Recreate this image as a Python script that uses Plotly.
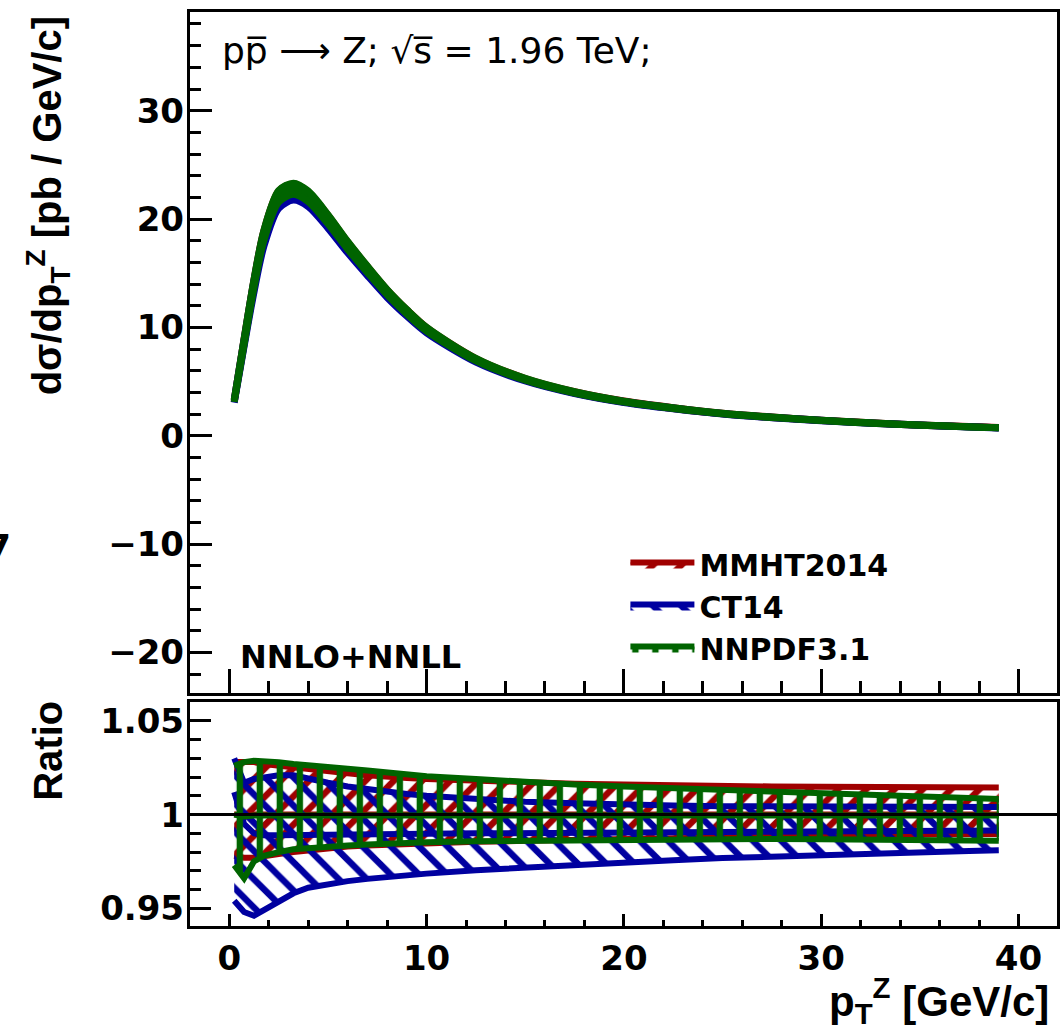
import plotly.graph_objects as go

# ---------------- data ----------------
pt = [0.25, 0.75, 1.25, 1.75, 2.5, 3.25, 4, 5, 6, 7, 8, 9, 10, 12.5, 15, 17.5,
      20, 22.5, 25, 27.5, 30, 32.5, 35, 37.5, 39]

# reference (MMHT2014 central) dsigma/dpT [pb/GeV/c]
xsec_central = [3.2, 8.7, 14.0, 18.4, 22.0, 22.7, 22.0, 19.9, 17.5, 15.3, 13.2, 11.4,
                9.8, 7.0, 5.2, 4.0, 3.15, 2.55, 2.05, 1.7, 1.42, 1.18, 0.98, 0.83, 0.74]

mmht_up = [1.028, 1.028, 1.028, 1.027, 1.026, 1.025, 1.024, 1.023, 1.022, 1.021, 1.020,
           1.0195, 1.019, 1.018, 1.017, 1.0165, 1.016, 1.0155, 1.015, 1.015, 1.0148,
           1.0147, 1.0146, 1.0145, 1.0145]
mmht_lo = [0.978, 0.977, 0.977, 0.978, 0.979, 0.980, 0.981, 0.982, 0.983, 0.9835, 0.984,
           0.9845, 0.985, 0.9855, 0.986, 0.9865, 0.987, 0.9875, 0.988, 0.9885, 0.989,
           0.9893, 0.9895, 0.9897, 0.9897]
mmht_c = [1.0, 1.0, 1.0, 1.0, 1.0, 1.0, 1.0, 1.0, 1.0, 1.0, 1.0, 1.0, 1.0, 1.0, 1.0,
          1.0, 1.0, 1.0, 1.0, 1.0, 1.0, 1.0, 1.0, 1.0, 1.0]

ct14_up = [1.030, 1.017, 1.019, 1.020, 1.021, 1.021, 1.019, 1.017, 1.015, 1.0135, 1.012,
           1.011, 1.010, 1.008, 1.0068, 1.006, 1.0052, 1.0048, 1.0045, 1.0043, 1.0042,
           1.0041, 1.004, 1.004, 1.004]
ct14_lo = [0.954, 0.948, 0.946, 0.949, 0.954, 0.958, 0.961, 0.963, 0.9645, 0.9657, 0.9667,
           0.9676, 0.9685, 0.9703, 0.9718, 0.9732, 0.9745, 0.9757, 0.9768, 0.9777, 0.9785,
           0.9793, 0.980, 0.9806, 0.981]
ct14_c = [1.012, 0.995, 0.990, 0.989, 0.989, 0.989, 0.989, 0.989, 0.989, 0.9892, 0.9894,
          0.9896, 0.9898, 0.990, 0.9902, 0.9904, 0.9906, 0.9908, 0.991, 0.9911, 0.9912,
          0.9913, 0.9914, 0.9915, 0.9915]

nnpdf_up = [1.026, 1.028, 1.0287, 1.0285, 1.028, 1.027, 1.0265, 1.0255, 1.0245, 1.0235,
            1.0225, 1.0215, 1.0205, 1.019, 1.0172, 1.016, 1.015, 1.014, 1.013, 1.012,
            1.0113, 1.0105, 1.0097, 1.0088, 1.0083]
nnpdf_lo = [0.973, 0.966, 0.975, 0.978, 0.980, 0.9815, 0.982, 0.983, 0.9835, 0.984, 0.9845,
            0.985, 0.9853, 0.9858, 0.986, 0.9865, 0.987, 0.987, 0.987, 0.987, 0.9868,
            0.9865, 0.9862, 0.986, 0.986]
nnpdf_c = [1.0, 0.999, 0.9995, 0.9995, 0.9995, 0.9995, 0.9995, 0.9995, 0.9995, 0.9995,
           0.9995, 0.9995, 0.9995, 0.9995, 0.9995, 0.9995, 0.9995, 0.9995, 0.9995, 0.9995,
           0.9995, 0.9995, 0.9995, 0.9995, 0.9995]

pdf_names = ["MMHT2014", "CT14", "NNPDF3.1"]
pdf_colors = ["#a00000", "#0000a0", "#006400"]
pdf_hatch = ["/", "\\", "|"]
pdf_up = [mmht_up, ct14_up, nnpdf_up]
pdf_lo = [mmht_lo, ct14_lo, nnpdf_lo]
pdf_c = [mmht_c, ct14_c, nnpdf_c]

x_ticks = [0, 10, 20, 30, 40]
y_ticks_top = [-20, -10, 0, 10, 20, 30]
y_ticks_ratio = [0.95, 1.0, 1.05]
y_ticklabels_ratio = ["0.95", "1", "1.05"]

# ---------------- figure ----------------
W, H = 1060, 1032
def px_x(p):
    return p / W
def px_y(p):
    return 1 - p / H

fig = go.Figure()

for name, col, hatch, up, lo, c in zip(pdf_names, pdf_colors, pdf_hatch, pdf_up, pdf_lo, pdf_c):
    # main panel band
    main_lo = [xs * r for xs, r in zip(xsec_central, lo)]
    main_up = [xs * r for xs, r in zip(xsec_central, up)]
    fig.add_trace(go.Scatter(x=pt, y=main_lo, mode="lines",
                             line=dict(color=col, width=7, shape="spline", smoothing=0.8),
                             xaxis="x", yaxis="y", showlegend=False, hoverinfo="skip"))
    fig.add_trace(go.Scatter(x=pt, y=main_up, mode="lines",
                             line=dict(color=col, width=7, shape="spline", smoothing=0.8),
                             fill="tonexty", fillcolor=col,
                             xaxis="x", yaxis="y", showlegend=False, hoverinfo="skip"))

for name, col, hatch, up, lo, c in zip(pdf_names, pdf_colors, pdf_hatch, pdf_up, pdf_lo, pdf_c):
    # ratio panel hatched band
    fig.add_trace(go.Scatter(x=pt, y=lo, mode="lines", line=dict(color=col, width=6),
                             xaxis="x2", yaxis="y2", showlegend=False, legendgroup=name,
                             hoverinfo="skip"))
    fig.add_trace(go.Scatter(x=pt, y=up, mode="lines", line=dict(color=col, width=6),
                             fill="tonexty", fillcolor="rgba(0,0,0,0)",
                             fillpattern=dict(shape=hatch, fgcolor=col, bgcolor="rgba(0,0,0,0)",
                                              size=20, solidity=0.32, fillmode="replace"),
                             xaxis="x2", yaxis="y2", name=name, legendgroup=name,
                             showlegend=True, hoverinfo="skip"))
    fig.add_trace(go.Scatter(x=pt, y=c, mode="lines", line=dict(color=col, width=6),
                             xaxis="x2", yaxis="y2", showlegend=False, legendgroup=name,
                             hoverinfo="skip"))

tick_font = dict(family="DejaVu Sans", size=34, color="black", weight="bold")
x_dom = [px_x(190), px_x(1058)]
x_range = [-2.0, 41.95]

axis_common = dict(showline=True, linecolor="black", linewidth=3, mirror=True,
                   showgrid=False, zeroline=False, ticks="inside", tickcolor="black",
                   tickwidth=3)

fig.update_layout(
    width=W, height=H,
    margin=dict(l=0, r=0, t=0, b=0),
    paper_bgcolor="white", plot_bgcolor="white",
    xaxis=dict(domain=x_dom, range=x_range, anchor="y", tickvals=x_ticks,
               showticklabels=False, ticklen=24,
               minor=dict(dtick=2, ticklen=12, tickwidth=3, tickcolor="black", ticks="inside"),
               **axis_common),
    yaxis=dict(domain=[px_y(694), px_y(11)], range=[-23.74, 39.11], anchor="x",
               tickvals=y_ticks_top, ticklen=22, tickfont=tick_font, ticklabelstandoff=-4,
               minor=dict(dtick=2, ticklen=11, tickwidth=3, tickcolor="black", ticks="inside"),
               **axis_common),
    xaxis2=dict(domain=x_dom, range=x_range, anchor="y2", matches="x", tickvals=x_ticks,
                ticktext=[str(v) for v in x_ticks], tickfont=tick_font, ticklen=12,
                ticklabelstandoff=0,
                minor=dict(dtick=2, ticklen=6, tickwidth=3, tickcolor="black", ticks="inside"),
                **axis_common),
    yaxis2=dict(domain=[px_y(928), px_y(703)], range=[0.9404, 1.0601], anchor="x2",
                tickvals=y_ticks_ratio, ticktext=y_ticklabels_ratio, tickfont=tick_font,
                ticklen=21, ticklabelstandoff=-4,
                minor=dict(dtick=0.01, ticklen=11, tickwidth=3, tickcolor="black", ticks="inside"),
                **axis_common),
    legend=dict(x=px_x(626), y=px_y(539), xanchor="left", yanchor="top",
                bgcolor="rgba(0,0,0,0)", itemwidth=64,
                font=dict(family="DejaVu Sans", size=30, color="black", weight="bold"),
                tracegroupgap=0),
    showlegend=True,
)

# reference line at ratio = 1
fig.add_shape(type="line", xref="x2 domain", yref="y2", x0=0, x1=1, y0=1, y1=1,
              line=dict(color="black", width=3), layer="above")

ann = []
ann.append(dict(text="pp\u0305 \u27f6 Z; \u221as\u0305 = 1.96 TeV;", x=px_x(220), y=px_y(50),
                xref="paper", yref="paper", xanchor="left", yanchor="middle", showarrow=False,
                font=dict(family="DejaVu Sans", size=36, color="black")))
ann.append(dict(text="NNLO+NNLL", x=px_x(238), y=px_y(658), xref="paper", yref="paper",
                xanchor="left", yanchor="middle", showarrow=False,
                font=dict(family="DejaVu Sans", size=32, color="black", weight="bold")))
ann.append(dict(text="d\u03c3/dp<sub>T</sub><sup>Z</sup> [pb / GeV/c]", x=px_x(48), y=px_y(205),
                xref="paper", yref="paper", xanchor="center", yanchor="middle", textangle=-90,
                showarrow=False,
                font=dict(family="Liberation Sans", size=40, color="black", weight="bold")))
ann.append(dict(text="Ratio", x=px_x(48), y=px_y(752), xref="paper", yref="paper",
                xanchor="center", yanchor="middle", textangle=-90, showarrow=False,
                font=dict(family="Liberation Sans", size=40, color="black", weight="bold")))
ann.append(dict(text="p<sub>T</sub><sup>Z</sup> [GeV/c]", x=px_x(1052), y=px_y(1002),
                xref="paper", yref="paper", xanchor="right", yanchor="middle", showarrow=False,
                font=dict(family="Liberation Sans", size=42, color="black", weight="bold")))
ann.append(dict(text="7", x=px_x(13), y=px_y(548), xref="paper", yref="paper",
                xanchor="right", yanchor="middle", showarrow=False,
                font=dict(family="DejaVu Sans", size=36, color="black", weight="bold")))
fig.update_layout(annotations=ann)

fig.write_html("out.html")
